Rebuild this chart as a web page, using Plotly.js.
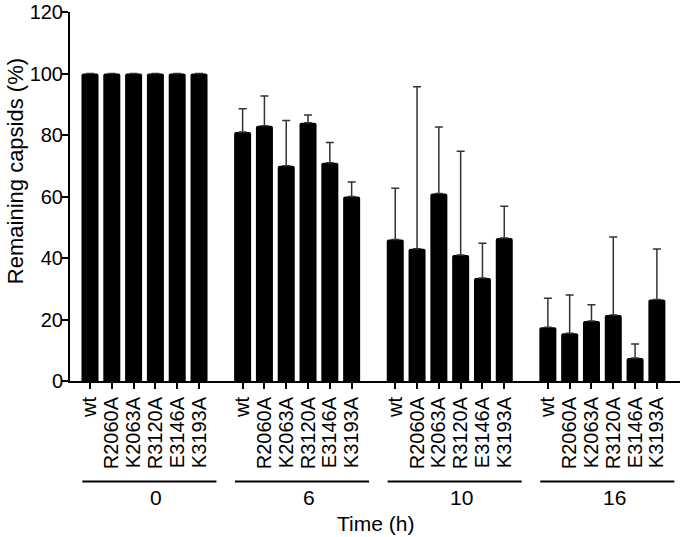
<!DOCTYPE html>
<html>
<head>
<meta charset="utf-8">
<script src="https://cdn.plot.ly/plotly-3.0.1.min.js"></script>
<style>
  html, body { margin: 0; padding: 0; background: #fff; }
  #chart { width: 680px; height: 537px; }
</style>
</head>
<body>
<div id="chart"></div>
<script>
// Data
var times = ['0', '6', '10', '16']
var mutants = ['wt', 'R2060A', 'K2063A', 'R3120A', 'E3146A', 'K3193A']

var mean_0 = [100, 100, 100, 100, 100, 100]
var mean_6 = [81, 83, 70, 84, 71, 60]
var mean_10 = [46, 43, 61, 41, 33.5, 46.5]
var mean_16 = [17.5, 15.5, 19.5, 21.5, 7.5, 26.5]

var err_0 = [0, 0, 0, 0, 0, 0]
var err_6 = [7.5, 9.7, 14.7, 2.5, 6.6, 4.7]
var err_10 = [16.7, 52.7, 21.6, 33.7, 11.3, 10.3]
var err_16 = [9.4, 12.5, 5.3, 25.3, 4.5, 16.4]

var means = [mean_0, mean_6, mean_10, mean_16]
var errs = [err_0, err_6, err_10, err_16]

// posisi batang: satu slot kosong di antara grup
var gap = mutants.length + 1
var xPos = [], yVal = [], eVal = [], eMinus = [], tickText = []
times.forEach(function (t, g) {
  mutants.forEach(function (m, i) {
    xPos.push(g * gap + i)
    yVal.push(means[g][i])
    eVal.push(errs[g][i])
    eMinus.push(0)
    tickText.push(m)
  })
})

var font = 'Liberation Sans, Arial, sans-serif'

var data = [{
  x: xPos,
  y: yVal,
  type: 'bar',
  width: 0.78,
  marker: { color: '#000', cornerradius: 2, line: { width: 0 } },
  error_y: {
    type: 'data',
    symmetric: false,
    array: eVal,
    arrayminus: eMinus,
    color: '#333',
    thickness: 1.5,
    width: 4
  },
  hoverinfo: 'none'
}]

// garis & label grup waktu di bawah sumbu x
var shapes = []
var annotations = []
times.forEach(function (t, g) {
  var first = g * gap
  var last = g * gap + mutants.length - 1
  shapes.push({
    type: 'line', xref: 'x', yref: 'paper',
    x0: first - 0.35, x1: last + 0.8, y0: -0.2726, y1: -0.2726,
    line: { color: '#000', width: 2 }
  })
  annotations.push({
    text: t, xref: 'x', yref: 'paper',
    x: (first + last) / 2 + 0.55, y: -0.3157,
    xanchor: 'center', yanchor: 'middle', showarrow: false,
    font: { family: font, size: 21, color: '#000' }
  })
})
annotations.push({
  text: 'Time (h)', xref: 'paper', yref: 'paper',
  x: 0.5, y: -0.3875, xanchor: 'center', yanchor: 'middle', showarrow: false,
  font: { family: font, size: 21, color: '#000' }
})
// judul sumbu y
annotations.push({
  text: 'Remaining capsids (%)', xref: 'paper', yref: 'paper',
  x: -0.09, y: 0.569, xanchor: 'center', yanchor: 'middle', showarrow: false,
  textangle: -90,
  font: { family: font, size: 22, color: '#000' }
})

var layout = {
  width: 680,
  height: 537,
  margin: { l: 70, r: 0, t: 12, b: 156 },
  paper_bgcolor: '#fff',
  plot_bgcolor: '#fff',
  showlegend: false,
  font: { family: font, size: 20, color: '#000' },
  xaxis: {
    range: [-0.917, 27.06],
    tickmode: 'array',
    tickvals: xPos,
    ticktext: tickText,
    tickangle: -90,
    ticks: 'outside',
    ticklen: 6,
    tickwidth: 2,
    tickcolor: '#000',
    tickfont: { family: font, size: 20, color: '#000' },
    showline: true,
    linecolor: '#000',
    linewidth: 2,
    showgrid: false,
    zeroline: false
  },
  yaxis: {
    range: [0, 120],
    tickmode: 'array',
    tickvals: [0, 20, 40, 60, 80, 100, 120],
    ticklabeloverflow: 'allow',
    ticklabelstandoff: -5,
    ticks: 'outside',
    ticklen: 6,
    tickwidth: 2,
    tickcolor: '#000',
    tickfont: { family: font, size: 20, color: '#000' },
    showline: true,
    linecolor: '#000',
    linewidth: 2,
    showgrid: false,
    zeroline: false
  },
  shapes: shapes,
  annotations: annotations
}

Plotly.newPlot('chart', data, layout, { displayModeBar: false, staticPlot: true })
</script>
</body>
</html>
